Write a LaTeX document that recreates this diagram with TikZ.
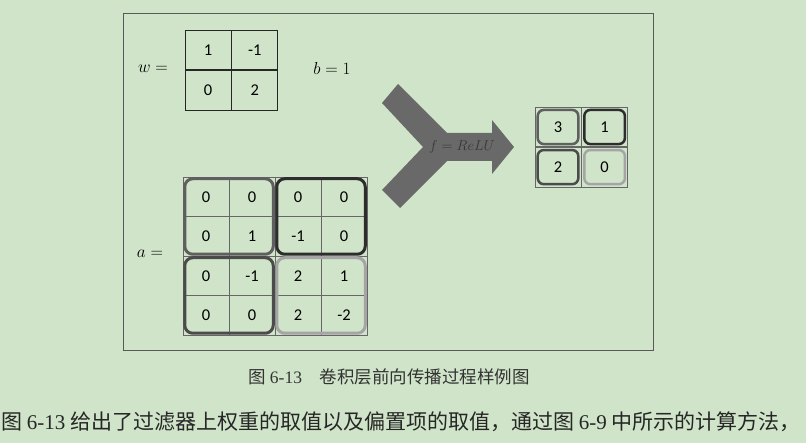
\documentclass[tikz,border=0pt]{standalone}
\usepackage{fontspec}
\setmainfont{Carlito}
\newfontfamily\cjk{Noto Sans CJK SC}
\newfontfamily\tms{Liberation Serif}
\usetikzlibrary{
  positioning,
  fit
}
\definecolor{paper}{RGB}{207,228,200}
\definecolor{patchA}{RGB}{95,95,95}
\definecolor{patchB}{RGB}{45,45,45}
\definecolor{patchC}{RGB}{75,75,75}
\definecolor{patchD}{RGB}{165,165,165}
\definecolor{arrowgray}{RGB}{105,105,105}
\tikzset{
  x=1pt, y=-1pt,
  cell/.style={draw=black!85, line width=0.8pt, minimum width=46pt,
    minimum height=39.5pt, inner sep=0pt, font=\fontsize{16.5}{16.5}\selectfont},
  gridcell/.style={cell, draw=black!60, line width=0.5pt},
  patch/.style={draw, line width=3pt, rounded corners=8pt, inner sep=-2pt},
  smallpatch/.style={draw, line width=2.5pt, rounded corners=6pt, inner sep=-3pt},
  lbl/.style={font=\fontsize{17}{17}\selectfont}
}

\begin{document}
\begin{tikzpicture}
    \useasboundingbox[fill=paper] (0,0) rectangle (806,443);
    \draw[black!65, line width=0.7pt] (123,13) rectangle (653,350);
    % filter and bias
    \node[lbl] (wlbl) at (153,69) {$w =$};
    \node[cell] (w11) at (208,50) {1};
    \node[cell, right=0pt of w11] (w12) {-1};
    \node[cell, below=0pt of w11] (w21) {0};
    \node[cell, right=0pt of w21] (w22) {2};
    \node[lbl] (blbl) at (332,69) {$b = 1$};
    % input
    \node[lbl] (albl) at (150,254) {$a =$};
    \foreach \row [count=\r] in {{0,0,0,0},{0,1,-1,0},{0,-1,2,1},{0,0,2,-2}}
      \foreach \v [count=\c] in \row
        \node[gridcell] (a\r\c) at ({160+46*\c}, {157.25+39.5*\r}) {\v};
    \node[patch, draw=patchA, fit=(a11)(a22)] (q11) {};
    \node[patch, draw=patchB, fit=(a13)(a24)] (q12) {};
    \node[patch, draw=patchC, fit=(a31)(a42)] (q21) {};
    \node[patch, draw=patchD, fit=(a33)(a44)] (q22) {};
    % activation arrow
    \fill[arrowgray] (398,84) -- (447,133) -- (492,133) -- (492,120) -- (514,147)
      -- (492,174) -- (492,161) -- (447,161) -- (400,208) -- (382,190)
      -- (423,147) -- (382,103) -- cycle;
    \node[font=\fontsize{15}{15}\selectfont, text=black!78] (relu) at (462,147) {$f = ReLU$};
    % output
    \node[cell, draw=black!60, line width=0.6pt] (r11) at (558,127) {3};
    \node[cell, draw=black!60, line width=0.6pt, right=0pt of r11] (r12) {1};
    \node[cell, draw=black!60, line width=0.6pt, below=0pt of r11] (r21) {2};
    \node[cell, draw=black!60, line width=0.6pt, right=0pt of r21] (r22) {0};
    \node[smallpatch, draw=patchA, fit=(r11)] (s11) {};
    \node[smallpatch, draw=patchB, fit=(r12)] (s12) {};
    \node[smallpatch, draw=patchC, fit=(r21)] (s21) {};
    \node[smallpatch, draw=patchD, fit=(r22)] (s22) {};
    % caption and text
    \node[font=\fontsize{17.5}{17.5}\selectfont, text=black!80] (cap) at (389,377)
      {\cjk 图 {\tms 6-13}\quad 卷积层前向传播过程样例图};
    \node[anchor=west, inner sep=0pt, font=\fontsize{21}{21}\selectfont, text=black!85] (body) at (1,422)
      {\cjk 图 {\tms 6-13} 给出了过滤器上权重的取值以及偏置项的取值，通过图 {\tms 6-9} 中所示的计算方法，};
\end{tikzpicture}
\end{document}
